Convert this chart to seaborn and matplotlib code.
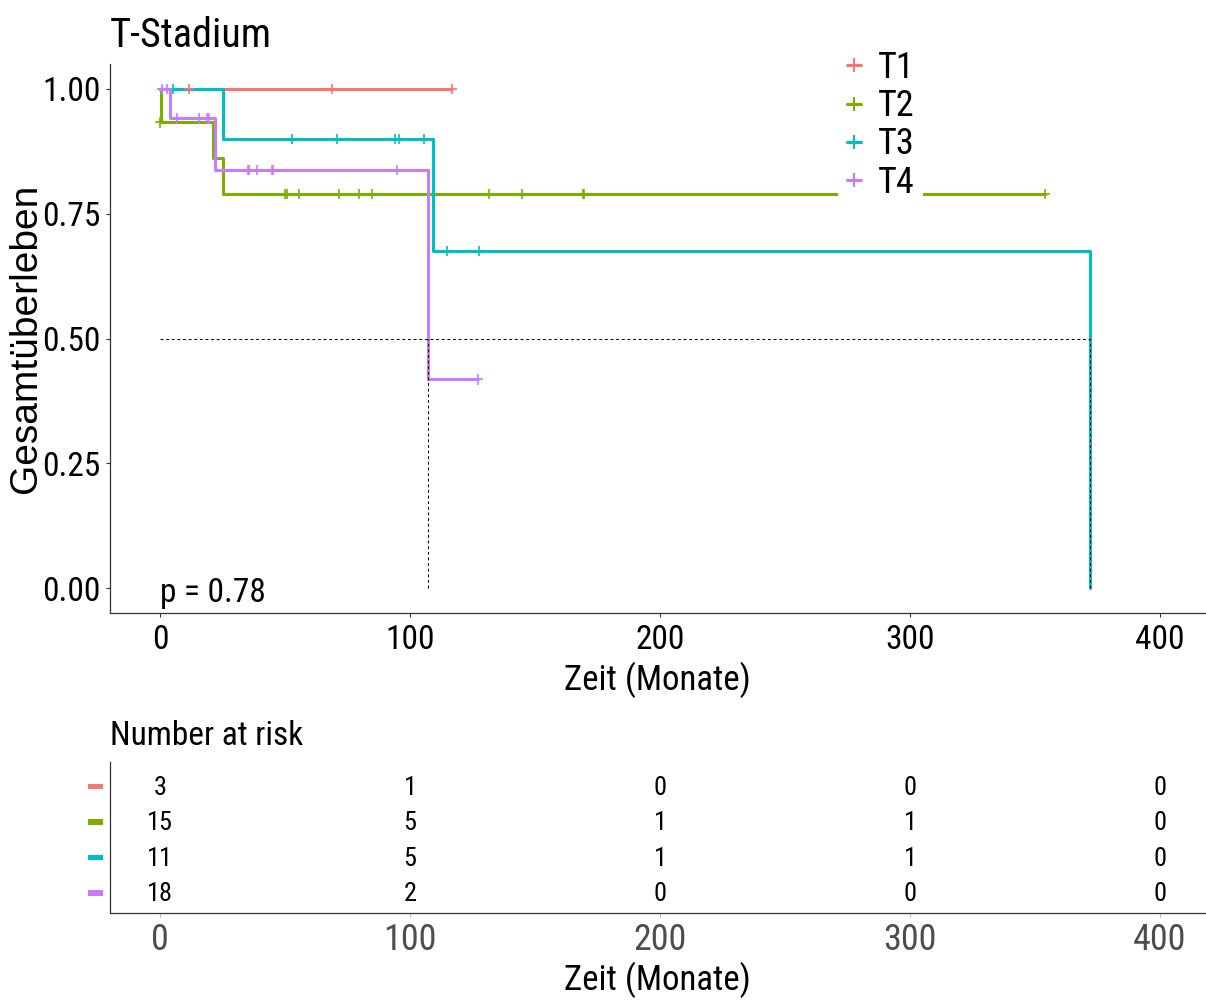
import numpy as np
import pandas as pd
import matplotlib
matplotlib.use("Agg")
import matplotlib.pyplot as plt
import matplotlib.font_manager as fm
import matplotlib.transforms as mtransforms
from matplotlib.patches import Rectangle
from matplotlib.lines import Line2D
import seaborn as sns

# ---------------- data ----------------
groups = ["T1", "T2", "T3", "T4"]
colors = ["#F8766D", "#7CAE00", "#00BFC4", "#C77CFF"]

# step curves (time in months, survival probability)
t1_time = [0, 116.8]
t1_surv = [1.0, 1.0]
t2_time = [0, 0.5, 21, 25, 354]
t2_surv = [1.0, 0.933, 0.862, 0.790, 0.790]
t3_time = [0, 25, 109, 372]
t3_surv = [1.0, 0.900, 0.675, 0.0]
t4_time = [0, 4, 22, 107, 127]
t4_surv = [1.0, 0.941, 0.837, 0.418, 0.418]

# censor marks
t1_cens_time = [11.6, 68.7, 116.8]
t1_cens_surv = [1.0, 1.0, 1.0]
t2_cens_time = [0.0, 50, 50.7, 55.7, 71.7, 79.7, 84.7, 131.6, 144.7, 169, 169.5, 354]
t2_cens_surv = [0.933] + [0.790] * 11
t3_cens_time = [5, 52.9, 70.9, 94, 95.7, 105.7, 114.7, 127.7]
t3_cens_surv = [1.0, 0.9, 0.9, 0.9, 0.9, 0.9, 0.675, 0.675]
t4_cens_time = [0.8, 2.7, 6.7, 15.7, 18.7, 19.6, 35, 35.6, 38.9, 44.7, 45.3, 94.7, 127]
t4_cens_surv = [1.0, 1.0, 0.941, 0.941, 0.941, 0.941, 0.837, 0.837, 0.837, 0.837, 0.837, 0.837, 0.418]

median_times = [107, 372]
p_label = "p = 0.78"

risk_times = [0, 100, 200, 300, 400]
risk_t1 = [3, 1, 0, 0, 0]
risk_t2 = [15, 5, 1, 1, 0]
risk_t3 = [11, 5, 1, 1, 0]
risk_t4 = [18, 2, 0, 0, 0]

x_ticks = [0, 100, 200, 300, 400]
y_ticks = [0.00, 0.25, 0.50, 0.75, 1.00]
y_ticklabels = ["0.00", "0.25", "0.50", "0.75", "1.00"]

title = "T-Stadium"
xlabel = "Zeit (Monate)"
ylabel = "Gesamtüberleben"
risk_title = "Number at risk"

# ---------------- tables ----------------
curve_df = pd.concat([
    pd.DataFrame({"time": t, "surv": s, "group": g})
    for g, t, s in zip(groups, [t1_time, t2_time, t3_time, t4_time],
                       [t1_surv, t2_surv, t3_surv, t4_surv])
], ignore_index=True)
cens_df = pd.concat([
    pd.DataFrame({"time": t, "surv": s, "group": g})
    for g, t, s in zip(groups, [t1_cens_time, t2_cens_time, t3_cens_time, t4_cens_time],
                       [t1_cens_surv, t2_cens_surv, t3_cens_surv, t4_cens_surv])
], ignore_index=True)
risk_rows = [risk_t1, risk_t2, risk_t3, risk_t4]

# ---------------- style / fonts ----------------
sns.set_style("white")
names = {f.name for f in fm.fontManager.ttflist}
narrow = next((n for n in ["Liberation Sans Narrow", "Arial Narrow", "Roboto Condensed",
                           "Liberation Sans"] if n in names), "DejaVu Sans")
wide = "Liberation Sans" if "Liberation Sans" in names else "DejaVu Sans"
plt.rcParams["font.family"] = [narrow, "DejaVu Sans"]
plt.rcParams["text.color"] = "black"
plt.rcParams["axes.labelcolor"] = "black"
plt.rcParams["xtick.color"] = "black"
plt.rcParams["ytick.color"] = "black"

W, H = 1206, 1001
fig = plt.figure(figsize=(W / 100, H / 100), dpi=100)
palette = dict(zip(groups, colors))

def px_box(left, top, right, bottom):
    return [left / W, 1 - bottom / H, (right - left) / W, (bottom - top) / H]

ax = fig.add_axes(px_box(110, 64, 1205, 613))
ax2 = fig.add_axes(px_box(110, 761.7, 1205, 912.7))

# ---------------- main survival plot ----------------
sns.lineplot(data=curve_df, x="time", y="surv", hue="group", hue_order=groups,
             palette=palette, estimator=None, sort=False, drawstyle="steps-post",
             linewidth=2.2, legend=False, ax=ax, zorder=2)
sns.scatterplot(data=cens_df, x="time", y="surv", hue="group", hue_order=groups,
                palette=palette, marker="+", s=55, linewidth=1.2, legend=False,
                ax=ax, zorder=3)

dash_kw = dict(color="black", linewidth=0.75, linestyle=(0, (2.8, 2.6)), zorder=4)
ax.hlines(0.5, 0, max(median_times), **dash_kw)
for m in median_times:
    ax.vlines(m, 0, 0.5, **dash_kw)

ax.text(0, -0.027, p_label, ha="left", va="baseline", fontsize=24, color="black")

ax.set_xlim(-20, 418)
ax.set_ylim(-0.05, 1.05)
ax.set_xticks(x_ticks)
ax.set_xticklabels([str(v) for v in x_ticks])
ax.set_yticks(y_ticks)
ax.set_yticklabels(y_ticklabels)
ax.tick_params(axis="both", which="both", length=3, width=0.8, color="#333333",
               labelsize=24, labelcolor="black", bottom=True, left=True)
ax.tick_params(axis="x", pad=5)
ax.tick_params(axis="y", pad=4)
sns.despine(ax=ax)
for sp in ["left", "bottom"]:
    ax.spines[sp].set_color("#333333")
    ax.spines[sp].set_linewidth(0.9)

ax.set_xlabel(xlabel, fontsize=25, va="center", color="black")
ax.xaxis.set_label_coords(0.5, -(680 - 613) / 549)
ax.set_ylabel(ylabel, fontsize=28, family=[wide, "DejaVu Sans"], va="center",
              color="black")
ax.yaxis.set_label_coords((26 - 110) / 1095, 0.5)
ax.set_title(title, loc="left", fontsize=29, y=(613 - 46.7) / 549, pad=0,
             color="black")

handles = [Line2D([], [], color=c, marker="+", markersize=10, markeredgewidth=1.5,
                  linewidth=2.2) for c in colors]
leg = ax.legend(handles, groups, loc="upper left",
                bbox_to_anchor=(838 / W, 1 - 41 / H), bbox_transform=fig.transFigure,
                fontsize=26, handlelength=0.4, handletextpad=0.45, borderpad=0.25,
                labelspacing=0.06, borderaxespad=0, frameon=True, fancybox=False,
                framealpha=1, facecolor="white", edgecolor="none", numpoints=1)
for t in leg.get_texts():
    t.set_color("black")

# ---------------- risk table ----------------
n = len(groups)
row_y = list(range(n, 0, -1))
for g, c, yv, vals in zip(groups, colors, row_y, risk_rows):
    for tx, v in zip(risk_times, vals):
        ax2.text(tx, yv - 0.04, str(v), ha="center", va="center", fontsize=19,
                 color="black")
ax2.set_xlim(-20, 418)
ax2.set_ylim(1 - 0.555, n + 0.70)
ax2.set_xticks(x_ticks)
ax2.set_xticklabels([str(v) for v in x_ticks])
ax2.set_yticks(row_y)
ax2.set_yticklabels([""] * n)
ax2.tick_params(axis="y", length=0)
ax2.tick_params(axis="x", length=3, width=0.8, color="#BBBBBB", labelsize=26,
                labelcolor="#4D4D4D", pad=4, bottom=True)
sns.despine(ax=ax2)
for sp in ["left", "bottom"]:
    ax2.spines[sp].set_color("#333333")
    ax2.spines[sp].set_linewidth(0.9)
blend = mtransforms.blended_transform_factory(ax2.transAxes, ax2.transData)
for c, yv in zip(colors, row_y):
    ax2.add_patch(Rectangle(((88 - 110) / 1095, yv - 0.08), 15 / 1095, 0.16,
                            transform=blend, clip_on=False, facecolor=c,
                            edgecolor="none"))
ax2.set_xlabel(xlabel, fontsize=25, va="center", color="black")
ax2.xaxis.set_label_coords(0.5, -(980 - 912.7) / 151)
ax2.set_ylabel("")
ax2.set_title(risk_title, loc="left", fontsize=24, y=(912.7 - 745) / 151, pad=0,
              color="black")

fig.savefig("out.png", dpi=100)
